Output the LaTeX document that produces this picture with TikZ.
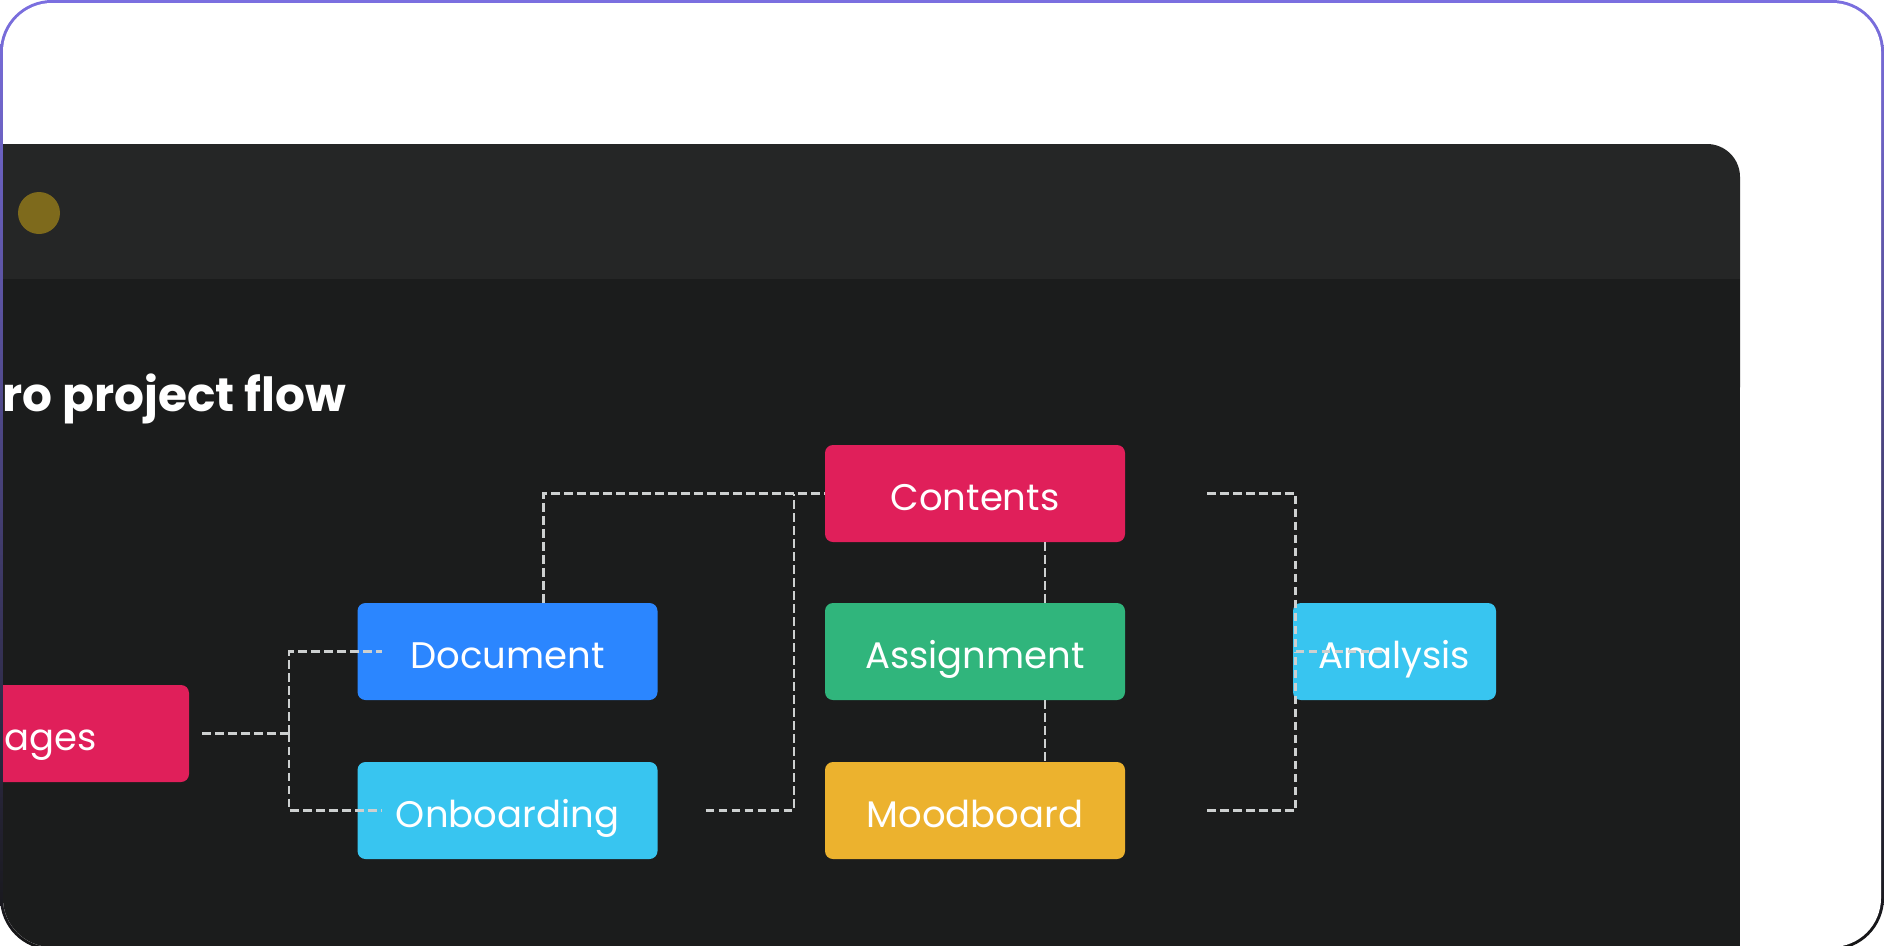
\documentclass[tikz,border=0pt]{standalone}
\usepackage{fontspec}
\setmainfont{Poppins}
\usetikzlibrary{positioning}

\definecolor{frametop}{HTML}{7B6FE0}
\definecolor{framemid}{HTML}{3A2F98}
\definecolor{framebot}{HTML}{151515}
\definecolor{headbar}{HTML}{252626}
\definecolor{panel}{HTML}{1B1C1C}
\definecolor{dotgold}{HTML}{7E6A1C}
\definecolor{crimson}{HTML}{E01F5A}
\definecolor{azure}{HTML}{2B86FF}
\definecolor{sky}{HTML}{38C5F0}
\definecolor{jade}{HTML}{30B57C}
\definecolor{amber}{HTML}{ECB22E}
\definecolor{linkgray}{HTML}{CDD0D0}

\begin{document}
\begin{tikzpicture}[x=1pt,y=-1pt,
  card/.style={rectangle,rounded corners=8pt,minimum width=300pt,minimum height=97pt,
    inner sep=0pt,text height=38pt,text depth=5pt,text=white,font=\fontsize{37}{42}\selectfont},
  link/.style={draw=linkgray,line width=2.8pt,dash pattern=on 8.5pt off 4.5pt}]
  \useasboundingbox (0,0) rectangle (1884,945);

  % outer frame
  \shade[top color=frametop,middle color=framemid,bottom color=framebot,rounded corners=52pt] (0,0) rectangle (1884,950);
  \fill[white,rounded corners=49pt] (3,3) rectangle (1881,947);

  \begin{scope}
    \clip[rounded corners=49pt] (3,3) rectangle (1881,947);
    % window
    \fill[headbar,rounded corners=33pt] (-60,144) rectangle (1740,420);
    \fill[panel] (-60,279) rectangle (1740,990);
    \fill[dotgold] (39,213) circle (21pt);
    \node[anchor=base west,text=white,font=\fontsize{47}{56}\selectfont\bfseries] (title) at (-1,411) {ro project flow};

    % boxes
    \node[card,fill=crimson,minimum width=276pt] (pages) at (51,733.5) {ages};
    \node[card,fill=azure] (doc) at (507.5,651.5) {Document};
    \node[card,fill=sky] (onb) at (507.5,810.5) {Onboarding};
    \node[card,fill=crimson] (cont) at (975,493.5) {Contents};
    \node[card,fill=jade] (assign) at (975,651.5) {Assignment};
    \node[card,fill=amber] (mood) at (975,810.5) {Moodboard};
    \node[card,fill=sky,minimum width=203pt] (ana) at (1394.5,651.5) {Analysis};

    % links
    \coordinate (jL) at (289,0);
    \coordinate (jM) at (794,0);
    \coordinate (jR) at ([xshift=3pt]ana.west);
    \coordinate (anaIn) at ([xshift=91pt]ana.west);
    \draw[link,shorten <=13pt] (pages.east) -- (pages.east -| jL);
    \draw[link,shorten >=-25pt] (pages.east -| jL) |- (doc.west);
    \draw[link,shorten >=-25pt] (pages.east -| jL) |- (onb.west);
    \draw[link] ([xshift=36pt]doc.north) |- (cont.west);
    \draw[link,shorten <=48pt] (onb.east) -| (cont.west -| jM);
    \draw[link] ([xshift=70pt]cont.south) -- ([xshift=70pt]assign.north);
    \draw[link] ([xshift=70pt]assign.south) -- ([xshift=70pt]mood.north);
    \draw[link,shorten <=82pt] (cont.east) -| (jR);
    \draw[link,shorten <=82pt] (mood.east) -| (jR);
    \draw[link] (jR) -- (anaIn);
  \end{scope}
\end{tikzpicture}
\end{document}
